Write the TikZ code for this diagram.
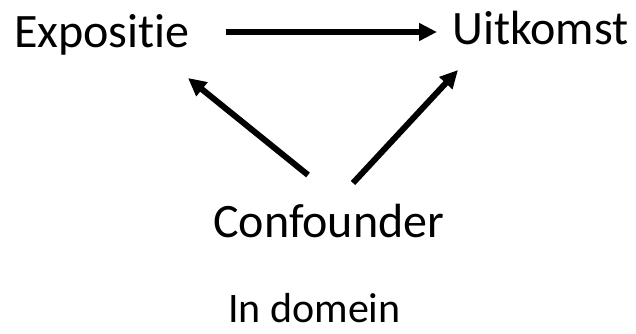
\documentclass[tikz,border=0pt]{standalone}
\usepackage{fontspec}
\setmainfont{Carlito}[Ligatures=NoCommon]
\usetikzlibrary{arrows.meta}
\begin{document}
\begin{tikzpicture}[x=1pt, y=1pt,
    every node/.style={inner sep=0pt, anchor=base west, font=\fontsize{48}{54}\selectfont},
    arr/.style={line width=6pt, -{Triangle[length=18pt, width=17pt]}}]
    \useasboundingbox (0,0) rectangle (636,333);
    \node (expo) at (14, 286) {Expositie};
    \node (uit) at (452, 289) {Uitkomst};
    \node (conf) at (213, 96) {Confounder};
    \node[font=\fontsize{42}{48}\selectfont] (dom) at (228, 11) {In domein};
    \draw[arr] ([shift={(35.6,15)}]expo.base east) -- ([shift={(-15,12)}]uit.base west);
    \draw[arr] ([shift={(95,62)}]conf.base west) -- ([shift={(174,-31)}]expo.base west);
    \draw[arr] ([shift={(140,54)}]conf.base west) -- ([shift={(6,-26)}]uit.base west);
\end{tikzpicture}
\end{document}
